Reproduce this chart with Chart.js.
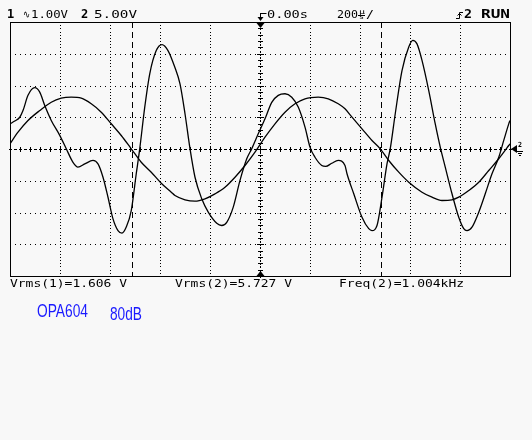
<!DOCTYPE html>
<html lang="en">
<head>
<meta charset="UTF-8">
<title>OPA604 80dB scope capture</title>
<script src="https://cdn.jsdelivr.net/npm/chart.js@4"></script>
<style>
  html, body { margin: 0; padding: 0; background: #f8f8f8; }
  canvas { display: block; }
</style>
</head>
<body>
<canvas id="scope" width="532" height="440"></canvas>
<script>
// channel 1 (1.00 V/div): time in µs, value in V
const ch1Time = [-1000,-981,-961,-948,-928,-901,-881,-861,-835,-801,-775,-748,-728,-701,-668,-648,-628,-608,-588,-568,-552,-535,-515,-495,-481,-461,-441,-415,-392,-368,-341,-320,-300,-280,-260,-233,-207,-173,-153,-133,-107,-80,-53,-33,-7,20,47,73,100,127,153,180,200,220,247,263,287,313,340,348,375,408,435,448,468,488,508,521,541,568,595,611,628,648,675,701,721,741,768,795,815,828,848,875,901,928,955,975,995,1000];
const ch1Volts = [0.79,0.88,1.00,1.21,1.69,1.93,1.79,1.37,0.90,0.43,0.01,-0.42,-0.57,-0.47,-0.36,-0.47,-0.89,-1.52,-2.20,-2.57,-2.65,-2.46,-1.94,-0.78,0.01,1.32,2.37,3.10,3.29,3.10,2.58,2.05,1.11,0.01,-0.89,-1.57,-1.99,-2.34,-2.41,-2.31,-1.83,-0.99,-0.31,0.01,0.48,0.95,1.47,1.69,1.74,1.63,1.32,0.69,0.06,-0.26,-0.52,-0.55,-0.45,-0.36,-0.52,-0.78,-1.41,-2.15,-2.51,-2.57,-2.41,-1.52,-0.47,0.01,1.11,2.47,3.21,3.42,3.31,2.79,1.84,0.79,0.06,-0.57,-1.41,-2.15,-2.51,-2.57,-2.46,-1.99,-1.41,-0.78,-0.26,0.27,0.79,0.90];

// channel 2 (5.00 V/div)
const ch2Time = [-1000,-968,-928,-881,-835,-795,-755,-715,-675,-635,-595,-555,-515,-475,-435,-395,-355,-340,-300,-260,-220,-180,-140,-100,-60,-20,20,60,100,140,180,233,273,313,340,368,408,448,481,515,555,595,648,688,728,768,795,835,875,915,955,995,1000];
const ch2Volts = [0.82,2.65,4.49,6.06,7.37,8.00,8.16,8.00,7.12,5.80,3.97,2.13,0.03,-2.08,-3.65,-5.39,-6.80,-7.32,-8.00,-8.22,-7.84,-7.06,-6.02,-4.44,-2.60,-0.50,1.86,3.97,5.80,7.12,7.91,8.16,7.91,7.12,6.33,5.01,3.18,1.34,0.03,-1.81,-3.65,-5.23,-6.80,-7.59,-8.11,-8.00,-7.59,-6.54,-5.23,-3.39,-1.54,0.55,0.82];

const ch1VoltsPerDiv = 1;
const ch2VoltsPerDiv = 5;
const timePerDiv = 200;          // µs
const cursorTimes = [-514, 484]; // dashed time cursors
const readouts = ['Vrms(1)=1.606 V', 'Vrms(2)=5.727 V', 'Freq(2)=1.004kHz'];
const noteLabels = ['OPA604', '80dB'];

const MONO = '"DejaVu Sans Mono", "Liberation Mono", monospace';
const NARROW = '"Liberation Sans Narrow", "Liberation Sans", sans-serif';

function fitText(ctx, text, x, baseline, width, font, color) {
    ctx.save();
    ctx.font = font;
    ctx.fillStyle = color || '#000';
    ctx.textAlign = 'left';
    ctx.textBaseline = 'alphabetic';
    const w = ctx.measureText(text).width;
    ctx.translate(x, baseline);
    if (width) ctx.scale(width / w, 1);
    ctx.fillText(text, 0, 0);
    ctx.restore();
}

const scopePlugin = {
    id: 'scope',
    beforeDraw(chart) {
        const ctx = chart.ctx;
        ctx.save();
        ctx.fillStyle = '#f8f8f8';
        ctx.fillRect(0, 0, chart.width, chart.height);
        ctx.restore();
    },
    beforeDatasetsDraw(chart) {
        const { ctx, chartArea: a, scales: { x, y } } = chart;
        ctx.save();
        ctx.fillStyle = '#000';

        // dotted graticule
        for (let k = -4; k <= 4; k++) {
            if (k === 0) continue;
            const px = Math.round(x.getPixelForValue(k * timePerDiv));
            for (let j = 0; j <= 80; j++) {
                ctx.fillRect(px, Math.round(y.getPixelForValue(-4 + j * 0.1)), 1, 1);
            }
        }
        for (let m = -3; m <= 3; m++) {
            if (m === 0) continue;
            const py = Math.round(y.getPixelForValue(m));
            for (let i = 0; i <= 100; i++) {
                ctx.fillRect(Math.round(x.getPixelForValue(-1000 + i * 20)), py, 1, 1);
            }
        }

        // centre axes with minor ticks
        const cy = Math.round(y.getPixelForValue(0));
        for (let i = 0; i <= 100; i++) {
            const px = Math.round(x.getPixelForValue(-1000 + i * 20));
            ctx.fillRect(px - 1, cy, 3, 1);
            if (i % 2 === 0) ctx.fillRect(px, cy - 2, 1, 5);
        }
        const cx0 = Math.round(x.getPixelForValue(0));
        for (let j = 0; j <= 80; j++) {
            const py = Math.round(y.getPixelForValue(-4 + j * 0.1));
            ctx.fillRect(cx0, py, 1, 2);
            if (j % 10 === 0) ctx.fillRect(cx0 - 3, py, 7, 1);
            else if (j % 2 === 0) ctx.fillRect(cx0 - 2, py, 5, 1);
        }

        // dashed cursors
        ctx.strokeStyle = '#000';
        ctx.lineWidth = 1;
        ctx.setLineDash([6, 4]);
        cursorTimes.forEach(t => {
            const px = Math.round(x.getPixelForValue(t)) + 0.5;
            ctx.beginPath();
            ctx.moveTo(px, a.top);
            ctx.lineTo(px, a.bottom);
            ctx.stroke();
        });
        ctx.restore();
    },
    afterDatasetsDraw(chart) {
        const { ctx, chartArea: a, scales: { x, y } } = chart;
        ctx.save();
        ctx.strokeStyle = '#000';
        ctx.fillStyle = '#000';
        ctx.lineWidth = 1;

        // frame
        ctx.strokeRect(Math.round(a.left) + 0.5, Math.round(a.top) + 0.5,
            Math.round(a.right - a.left), Math.round(a.bottom - a.top));

        // trigger position markers
        const tx = Math.round(x.getPixelForValue(0)) + 0.5;
        ctx.beginPath();
        ctx.moveTo(tx, 13); ctx.lineTo(tx, 20);
        ctx.moveTo(tx, 13.5); ctx.lineTo(tx + 6, 13.5);
        ctx.stroke();
        ctx.beginPath();
        ctx.moveTo(tx - 3, 17); ctx.lineTo(tx + 3, 17); ctx.lineTo(tx, 21); ctx.closePath();
        ctx.fill();
        ctx.beginPath();
        ctx.moveTo(tx - 4, a.top + 1); ctx.lineTo(tx + 4, a.top + 1); ctx.lineTo(tx, a.top + 6); ctx.closePath();
        ctx.fill();
        ctx.beginPath();
        ctx.moveTo(tx - 4, a.bottom); ctx.lineTo(tx + 4, a.bottom); ctx.lineTo(tx, a.bottom - 5); ctx.closePath();
        ctx.fill();

        // channel 2 ground marker on the right
        const gy = y.getPixelForValue(0);
        ctx.beginPath();
        ctx.moveTo(a.right + 1, gy); ctx.lineTo(a.right + 7, gy - 4); ctx.lineTo(a.right + 7, gy + 4); ctx.closePath();
        ctx.fill();
        fitText(ctx, '2', a.right + 8, gy - 2, 4, 'bold 7px ' + MONO);
        ctx.fillRect(a.right + 7, gy + 2, 6, 1);
        ctx.fillRect(a.right + 8, gy + 4, 4, 1);
        ctx.fillRect(a.right + 9, gy + 6, 2, 1);

        // header
        fitText(ctx, '1', 7, 18, null, 'bold 12px ' + MONO);
        fitText(ctx, '\u223F', 23, 18, 7, '11px ' + MONO);
        fitText(ctx, '1.00V', 31, 18, 37, '11px ' + MONO);
        fitText(ctx, '2', 81, 18, null, 'bold 12px ' + MONO);
        fitText(ctx, '5.00V', 94, 18, 43, '11px ' + MONO);
        fitText(ctx, '0.00s', 267, 18, 41, '11px ' + MONO);
        fitText(ctx, '200', 337, 18, 21, '11px ' + MONO);
        fitText(ctx, '\u00B5', 359, 14, 6, '7px ' + MONO);
        ctx.fillRect(358, 15, 7, 1);
        fitText(ctx, 's', 359, 19, 5, '7px ' + MONO);
        fitText(ctx, '/', 366, 18, 8, '11px ' + MONO);

        // rising edge trigger symbol
        ctx.beginPath();
        ctx.moveTo(456, 18.5); ctx.lineTo(459.5, 18.5); ctx.lineTo(459.5, 12.5); ctx.lineTo(463, 12.5);
        ctx.moveTo(457.5, 15.5); ctx.lineTo(459.5, 13.5); ctx.lineTo(461.5, 15.5);
        ctx.stroke();
        fitText(ctx, '2', 464, 18, 8, 'bold 12px ' + MONO);
        fitText(ctx, 'RUN', 481, 18, 29, 'bold 12px ' + MONO);

        // measurement readouts
        fitText(ctx, readouts[0], 10, 287, 117, '11px ' + MONO);
        fitText(ctx, readouts[1], 175, 287, 117, '11px ' + MONO);
        fitText(ctx, readouts[2], 339, 287, 125, '11px ' + MONO);

        // notes
        fitText(ctx, noteLabels[0], 37, 317, 51, '19px ' + NARROW, '#1a1aff');
        fitText(ctx, noteLabels[1], 110, 320, 32, '19px ' + NARROW, '#1a1aff');
        ctx.restore();
    }
};

const ctx = document.getElementById('scope').getContext('2d');
new Chart(ctx, {
    type: 'line',
    data: {
        datasets: [
            {
                label: 'CH1',
                data: ch1Time.map((t, i) => ({ x: t, y: ch1Volts[i] / ch1VoltsPerDiv })),
                borderColor: '#000',
                borderWidth: 1.3,
                pointRadius: 0,
                fill: false,
                cubicInterpolationMode: 'monotone'
            },
            {
                label: 'CH2',
                data: ch2Time.map((t, i) => ({ x: t, y: ch2Volts[i] / ch2VoltsPerDiv })),
                borderColor: '#000',
                borderWidth: 1.3,
                pointRadius: 0,
                fill: false,
                cubicInterpolationMode: 'monotone'
            }
        ]
    },
    options: {
        responsive: false,
        animation: false,
        events: [],
        layout: { padding: { left: 10, right: 22, top: 22, bottom: 164 } },
        plugins: {
            legend: { display: false },
            tooltip: { enabled: false }
        },
        scales: {
            x: { type: 'linear', min: -5 * timePerDiv, max: 5 * timePerDiv, display: false },
            y: { min: -4, max: 4, display: false }
        }
    },
    plugins: [scopePlugin]
});
</script>
</body>
</html>
